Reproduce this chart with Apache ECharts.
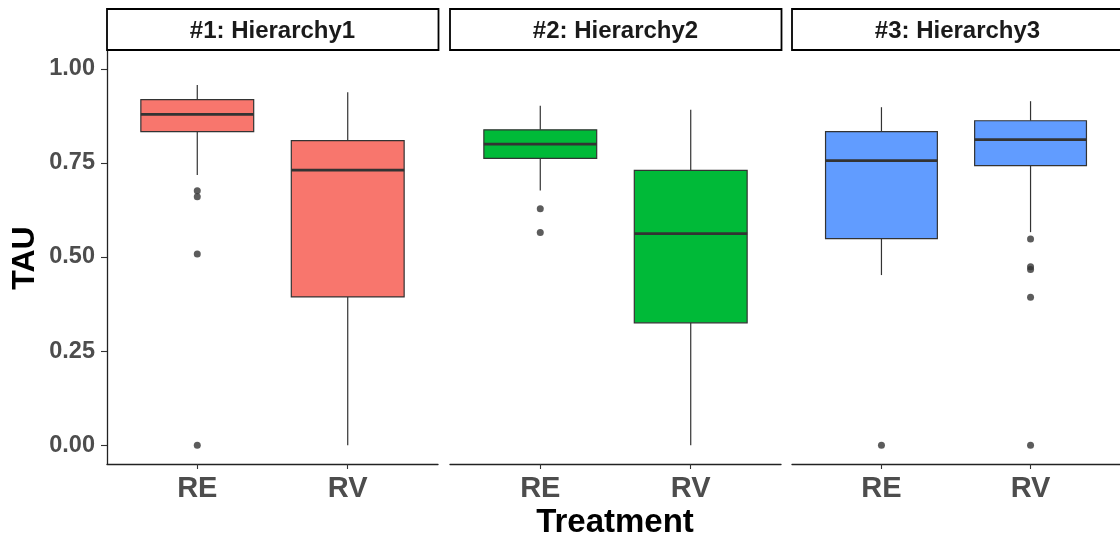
<!DOCTYPE html>
<html>
<head>
<meta charset="utf-8">
<script src="https://cdn.jsdelivr.net/npm/echarts@6/dist/echarts.min.js"></script>
<style>
html,body{margin:0;padding:0;background:#fff;}
#chart{width:1120px;height:541px;}
</style>
</head>
<body>
<div id="chart"></div>
<script>
// ---- data ----
const categories = ['RE', 'RV'];
const facetTitles = ['#1: Hierarchy1', '#2: Hierarchy2', '#3: Hierarchy3'];
const yTicks = [0, 0.25, 0.5, 0.75, 1];
// box stats per category: [lower whisker, Q1, median, Q3, upper whisker]
const h1Box = [[0.718, 0.833, 0.879, 0.918, 0.957], [0.0, 0.394, 0.731, 0.809, 0.938]];
const h2Box = [[0.677, 0.762, 0.800, 0.838, 0.902], [0.0, 0.325, 0.562, 0.730, 0.891]];
const h3Box = [[0.452, 0.549, 0.756, 0.833, 0.898], [0.566, 0.743, 0.812, 0.862, 0.914]];
// outliers per category
const h1Out = [[0.676, 0.660, 0.508, 0.0], []];
const h2Out = [[0.628, 0.565], []];
const h3Out = [[0.0], [0.548, 0.474, 0.467, 0.393, 0.0]];
const fills = ['#F8766D', '#00BA38', '#619CFF'];

// ---- layout ----
const FONT = 'Liberation Sans, Arial, sans-serif';
const gridLefts = [107, 450, 792];
const gridW = 331;
const gridTop = 50, gridBottom = 77;
const stripTop = 9;

const boxes = [h1Box, h2Box, h3Box];
const outs = [h1Out, h2Out, h3Out];

const grids = [], xAxes = [], yAxes = [], series = [], graphics = [];
for (let i = 0; i < 3; i++) {
  grids.push({left: gridLefts[i], width: gridW, top: gridTop, bottom: gridBottom, containLabel: false});
  xAxes.push({
    type: 'value', gridIndex: i, min: 0.4, max: 2.6,
    splitLine: {show: false},
    axisLine: {show: true, onZero: false, lineStyle: {color: '#222', width: 1.3}},
    axisTick: {show: true, customValues: [1, 2], length: 5, lineStyle: {color: '#333', width: 1.1}},
    axisLabel: {
      show: true, customValues: [1, 2], margin: 10,
      formatter: v => categories[Math.round(v) - 1] || '',
      color: '#4D4D4D', fontWeight: 'bold', fontSize: 29, fontFamily: FONT
    }
  });
  yAxes.push({
    type: 'value', gridIndex: i, min: -0.05, max: 1.05,
    splitLine: {show: false},
    axisLine: {show: i === 0, onZero: false, lineStyle: {color: '#222', width: 1.3}},
    axisTick: {show: i === 0, customValues: yTicks, length: 6, lineStyle: {color: '#333', width: 1.1}},
    axisLabel: {
      show: i === 0, customValues: yTicks, margin: 12,
      formatter: v => v.toFixed(2),
      color: '#4D4D4D', fontWeight: 'bold', fontSize: 23.5, fontFamily: FONT
    }
  });
  const boxData = boxes[i].map((b, k) => [k + 1].concat(b));
  const fill = fills[i];
  series.push({
    type: 'custom', xAxisIndex: i, yAxisIndex: i,
    data: boxData,
    encode: {x: 0, y: [1, 2, 3, 4, 5]},
    renderItem: function (params, api) {
      const x = api.value(0);
      const lo = api.value(1), q1 = api.value(2), md = api.value(3), q3 = api.value(4), hi = api.value(5);
      const hw = 0.375;
      const pL = api.coord([x - hw, q3]);
      const pR = api.coord([x + hw, q1]);
      const pc = api.coord([x, md]);
      const pHi = api.coord([x, hi]);
      const pLo = api.coord([x, lo]);
      const pQ3 = api.coord([x, q3]);
      const pQ1 = api.coord([x, q1]);
      return {
        type: 'group',
        children: [
          {type: 'line', shape: {x1: pHi[0], y1: pHi[1], x2: pQ3[0], y2: pQ3[1]}, style: {stroke: '#333', lineWidth: 1.2}},
          {type: 'line', shape: {x1: pQ1[0], y1: pQ1[1], x2: pLo[0], y2: pLo[1]}, style: {stroke: '#333', lineWidth: 1.2}},
          {type: 'rect', shape: {x: pL[0], y: pL[1], width: pR[0] - pL[0], height: pR[1] - pL[1]},
            style: {fill: fill, stroke: '#333', lineWidth: 1.2}},
          {type: 'line', shape: {x1: pL[0], y1: pc[1], x2: pR[0], y2: pc[1]}, style: {stroke: '#333', lineWidth: 2.7}}
        ]
      };
    }
  });
  const outData = [];
  outs[i].forEach((arr, k) => arr.forEach(v => outData.push([k + 1, v])));
  series.push({
    type: 'scatter', xAxisIndex: i, yAxisIndex: i,
    data: outData, symbol: 'circle', symbolSize: 7,
    itemStyle: {color: '#333'}, silent: true
  });
  // facet strip
  graphics.push({
    type: 'rect', shape: {x: gridLefts[i], y: stripTop, width: gridW + 0.5, height: gridTop - stripTop},
    style: {fill: '#fff', stroke: '#000', lineWidth: 1.8}, z: 10
  });
  graphics.push({
    type: 'text', x: gridLefts[i] + gridW / 2, y: (stripTop + gridTop) / 2 + 2,
    style: {text: facetTitles[i], textAlign: 'center', textVerticalAlign: 'middle',
      font: 'bold 24px ' + FONT, fill: '#1A1A1A'}, z: 11
  });
}
graphics.push({
  type: 'text', x: 615, y: 523,
  style: {text: 'Treatment', textAlign: 'center', textVerticalAlign: 'middle', font: 'bold 33px ' + FONT, fill: '#000'}
});
graphics.push({
  type: 'text', x: 25, y: 258, rotation: Math.PI / 2,
  style: {text: 'TAU', textAlign: 'center', textVerticalAlign: 'middle', font: 'bold 32px ' + FONT, fill: '#000'}
});

const chart = echarts.init(document.getElementById('chart'), null, {renderer: 'canvas'});
chart.setOption({
  animation: false,
  backgroundColor: '#fff',
  grid: grids, xAxis: xAxes, yAxis: yAxes, series: series, graphic: graphics
});
</script>
</body>
</html>
